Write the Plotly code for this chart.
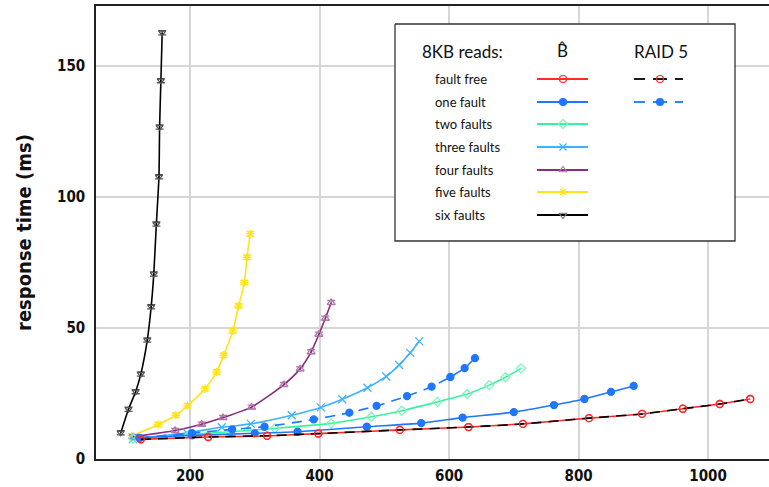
import plotly.graph_objects as go

# ---------------- data ----------------
ff_x = [124, 228, 319, 398, 524, 630, 714, 816, 898, 961, 1018, 1065]
ff_y = [7.5, 8.4, 8.8, 9.7, 11.1, 12.2, 13.4, 15.6, 17.2, 19.2, 21.0, 22.9]

r5ff_x = [124, 228, 319, 398, 524, 630, 714, 816, 898, 961, 1018, 1065]
r5ff_y = [7.5, 8.4, 8.9, 9.7, 11.1, 12.2, 13.4, 15.6, 17.2, 19.2, 21.0, 22.9]

one_x = [122, 203, 300, 366, 473, 557, 621, 700, 762, 809, 850, 885]
one_y = [8.1, 9.0, 9.8, 10.4, 12.3, 13.7, 15.8, 17.9, 20.6, 22.9, 25.6, 27.9]

r5one_x = [122, 203, 265, 315, 391, 446, 488, 535, 573, 602, 624, 640]
r5one_y = [8.1, 9.9, 11.3, 12.3, 15.1, 17.7, 20.3, 24.0, 27.6, 31.3, 34.7, 38.5]

two_x = [112, 200, 262, 331, 418, 480, 527, 582, 628, 662, 687, 711]
two_y = [7.8, 9.4, 10.4, 11.7, 13.6, 16.1, 18.4, 21.8, 24.8, 28.2, 31.2, 34.6]

three_x = [112, 195, 249, 294, 357, 402, 435, 474, 503, 523, 540, 554]
three_y = [7.6, 10.0, 12.1, 13.4, 16.7, 19.7, 22.8, 27.2, 31.5, 35.9, 40.5, 44.9]

four_x = [112, 177, 218, 251, 295, 345, 370, 387, 399, 409, 418]
four_y = [8.5, 10.9, 13.3, 15.8, 19.8, 28.4, 34.4, 40.9, 47.6, 53.7, 59.7]

five_x = [110, 151, 178, 196, 223, 241, 252, 266, 275, 284, 288, 293]
five_y = [8.8, 13.2, 16.7, 20.3, 26.8, 33.2, 39.6, 48.9, 58.4, 67.4, 77.0, 86.0]

six_x = [93, 105, 116, 124, 134, 140, 144, 148, 152, 153, 155, 157]
six_y = [10.0, 19.0, 25.7, 32.4, 45.4, 58.1, 70.6, 89.7, 107.7, 126.7, 144.4, 162.7]

x_ticks = [200, 400, 600, 800, 1000]
y_ticks = [0, 50, 100, 150]

legend_labels = ["fault free", "one fault", "two faults", "three faults",
                 "four faults", "five faults", "six faults"]

# ---------------- styles ----------------
RED = "#ff2a2a"
BLUE = "#1f77ff"
GREEN = "#33f59c"
LBLUE = "#3fb2ff"
PURPLE = "#882d7f"
YELLOW = "#ffe41c"
BLACK = "#000000"

W, H = 769, 487
L, R, T, B = 96, 769, 6, 459  # plot area in pixels

fig = go.Figure()

def err():
    return dict(type="constant", value=0.8, width=4, thickness=1.3)

series = [
    # (x, y, line color, dash, marker symbol, marker color, marker size, errbars)
    (six_x, six_y, BLACK, "solid", "triangle-down-open", "#555555", 6, True),
    (five_x, five_y, YELLOW, "solid", "asterisk-open", YELLOW, 7, True),
    (four_x, four_y, PURPLE, "solid", "triangle-up-open", "#b27aa8", 7, True),
    (three_x, three_y, LBLUE, "solid", "x-thin-open", LBLUE, 8, False),
    (two_x, two_y, GREEN, "solid", "diamond-open", "#7ff5bd", 7, False),
    (r5one_x, r5one_y, BLUE, "10px,7px", "circle", BLUE, 7, False),
    (one_x, one_y, BLUE, "solid", "circle", BLUE, 7, False),
    (ff_x, ff_y, RED, "solid", "circle-open", RED, 7, False),
    (r5ff_x, r5ff_y, BLACK, "10px,7px", "circle-open", RED, 7, False),
]
for xs, ys, lc, dash, sym, mc, ms, eb in series:
    tr = dict(
        x=xs, y=ys, mode="lines+markers",
        line=dict(color=lc, width=1.6, dash=dash, shape="spline", smoothing=0.6),
        marker=dict(symbol=sym, color=mc, size=ms, line=dict(color=mc, width=1.3)),
        showlegend=False, hoverinfo="skip",
    )
    if eb:
        tr["error_y"] = dict(err(), color=mc)
    fig.add_trace(go.Scatter(**tr))

# ---------------- custom legend (pixel overlay axes) ----------------
bx0, bx1, by0, by1 = 395, 735, 24, 241
fig.add_trace(go.Scatter(x=[bx0, bx1, bx1, bx0, bx0], y=[by0, by0, by1, by1, by0],
                         xaxis="x2", yaxis="y2", mode="lines", fill="toself",
                         fillcolor="white", line=dict(color="#333333", width=1.3),
                         showlegend=False, hoverinfo="skip"))

row_y = [79, 102, 124, 147, 170, 192, 215]
samples = [
    (RED, "circle-open", RED),
    (BLUE, "circle", BLUE),
    (GREEN, "diamond-open", "#7ff5bd"),
    (LBLUE, "x-thin-open", LBLUE),
    (PURPLE, "triangle-up-open", "#b27aa8"),
    (YELLOW, "asterisk-open", YELLOW),
    (BLACK, "triangle-down-open", "#777777"),
]
for yy, (lc, sym, mc) in zip(row_y, samples):
    fig.add_trace(go.Scatter(x=[537, 588], y=[yy, yy], xaxis="x2", yaxis="y2",
                             mode="lines", line=dict(color=lc, width=1.8),
                             showlegend=False, hoverinfo="skip"))
    fig.add_trace(go.Scatter(x=[563], y=[yy], xaxis="x2", yaxis="y2", mode="markers",
                             marker=dict(symbol=sym, color=mc, size=7,
                                         line=dict(color=mc, width=1.2)),
                             showlegend=False, hoverinfo="skip"))

# RAID 5 samples
for yy, lc, sym, mc in [(row_y[0], BLACK, "circle-open", RED),
                         (row_y[1], BLUE, "circle", BLUE)]:
    for a, b in [(634, 645), (653, 667), (675, 683)]:
        fig.add_trace(go.Scatter(x=[a, b], y=[yy, yy], xaxis="x2", yaxis="y2",
                                 mode="lines", line=dict(color=lc, width=1.8),
                                 showlegend=False, hoverinfo="skip"))
    fig.add_trace(go.Scatter(x=[660], y=[yy], xaxis="x2", yaxis="y2", mode="markers",
                             marker=dict(symbol=sym, color=mc, size=7,
                                         line=dict(color=mc, width=1.2)),
                             showlegend=False, hoverinfo="skip"))

ann_font = dict(family="Lato, Open Sans, sans-serif", size=13, color="#111111")
for yy, lab in zip(row_y, legend_labels):
    fig.add_annotation(x=433, y=yy, xref="x2", yref="y2", text=lab, showarrow=False,
                       xanchor="left", yanchor="middle", font=ann_font)

head_font = dict(family="Lato, Open Sans, sans-serif", size=17, color="#111111")
fig.add_annotation(x=462, y=51, xref="x2", yref="y2", text="8KB reads:",
                   showarrow=False, font=head_font)
fig.add_annotation(x=562, y=50, xref="x2", yref="y2", text="B\u0302",
                   showarrow=False, font=head_font)
fig.add_annotation(x=661, y=51, xref="x2", yref="y2", text="RAID 5",
                   showarrow=False, font=head_font)

COND = "DejaVu Sans Condensed, Liberation Sans Narrow, Roboto Condensed, sans-serif"
tick_font = dict(family=COND, size=15, color="#111111", weight="bold")

fig.update_layout(
    width=W, height=H,
    margin=dict(l=L, r=W - R, t=T, b=H - B, autoexpand=False),
    paper_bgcolor="white", plot_bgcolor="white",
    xaxis=dict(range=[54.8, 1094], tickvals=x_ticks, ticks="", showgrid=True,
               gridcolor="#d6d6d6", gridwidth=1.5, zeroline=False,
               showline=True, linecolor="#222222", linewidth=1.5, mirror=True,
               tickfont=tick_font, automargin=False, ticklabelstandoff=2),
    yaxis=dict(range=[0, 172.9], tickvals=y_ticks, ticks="", showgrid=True,
               gridcolor="#d6d6d6", gridwidth=1.5, zeroline=False,
               showline=True, linecolor="#222222", linewidth=1.5,
               tickfont=tick_font, ticklabelstandoff=6, automargin=False,
               title=dict(text="response time (ms)", standoff=20,
                          font=dict(family=COND, size=20, color="#111111",
                                    weight="bold"))),
    xaxis2=dict(range=[L, R], overlaying="x", visible=False, anchor="y2"),
    yaxis2=dict(range=[B, T], overlaying="y", visible=False, anchor="x2"),
)

fig.write_html("out.html", config={"displayModeBar": False},
               post_script="document.body.style.margin='0';document.body.style.overflow='hidden';")
